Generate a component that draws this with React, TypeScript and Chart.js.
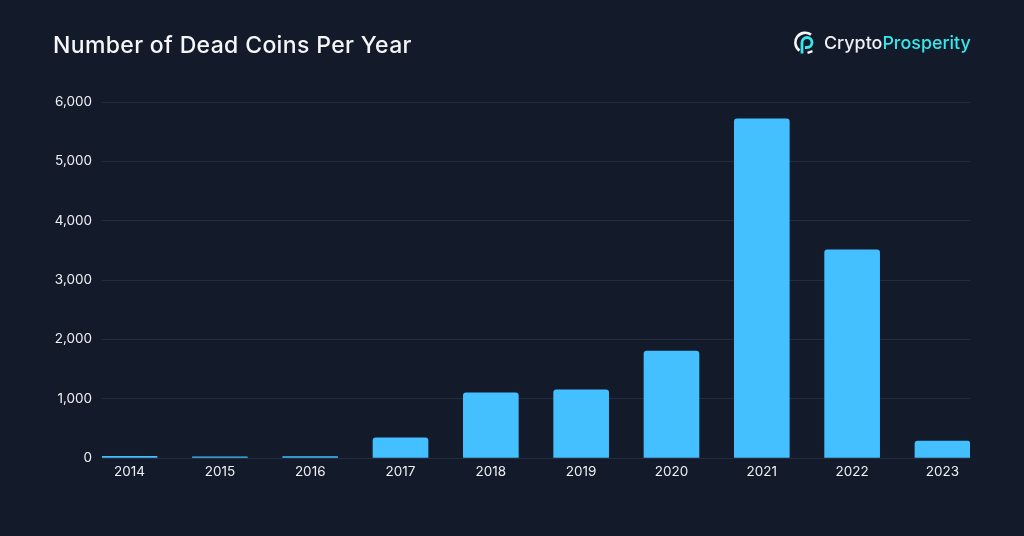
import { useEffect, useRef } from 'react';
import { Chart, registerables } from 'chart.js';

Chart.register(...registerables);

const years = [2014, 2015, 2016, 2017, 2018, 2019, 2020, 2021, 2022, 2023];
const deadCoins = [30, 18, 22, 340, 1100, 1150, 1800, 5715, 3510, 285];
const yTicks = [0, 1000, 2000, 3000, 4000, 5000, 6000];

const FONT = 'Inter, "Noto Sans", sans-serif';
const BG = '#131a2a';
const BAR = '#44bfff';
const TEXT = '#eef0f3';
const GRID = '#252c3d';

function Logo() {
  return (
    <svg width="22" height="24" viewBox="0 0 22 24" style={{ position: 'absolute', left: 794, top: 31 }}>
      <path d="M17 3.6 A9.6 9.6 0 1 0 5.5 19.6" fill="none" stroke="#f4f6f8" strokeWidth="2.6" />
      <path d="M8 22.5 V11.5 A5 5 0 1 1 13 16.5 H11" fill="none" stroke="#35e8ee" strokeWidth="2.8" />
      <path d="M13.5 21.8 L18.5 20.2" fill="none" stroke="#f4f6f8" strokeWidth="2.4" />
    </svg>
  );
}

export default function App() {
  const canvasRef = useRef<HTMLCanvasElement>(null);

  useEffect(() => {
    if (!canvasRef.current) return;

    const chart = new Chart(canvasRef.current, {
      type: 'bar',
      data: {
        datasets: [
          {
            data: years.map((y, i) => ({ x: y, y: deadCoins[i] })),
            backgroundColor: BAR,
            borderRadius: { topLeft: 3, topRight: 3, bottomLeft: 0, bottomRight: 0 },
            borderSkipped: false,
            barThickness: 55,
          },
        ],
      },
      options: {
        responsive: false,
        animation: false,
        layout: { padding: { top: 102, right: 54 } },
        plugins: { legend: { display: false }, tooltip: { enabled: false } },
        scales: {
          x: {
            type: 'linear',
            offset: false,
            // half a bar past the first and last year, so grid lines stop at the bar edges
            min: 2013.695,
            max: 2023.305,
            grid: { display: false, drawTicks: false, tickLength: 0 },
            border: { display: false },
            afterBuildTicks: (axis) => { axis.ticks = years.map((value) => ({ value })); },
            afterFit: (axis) => { axis.height = 78; },
            ticks: {
              color: TEXT,
              font: { family: FONT, size: 13.5 },
              padding: 6,
              maxRotation: 0,
              autoSkip: false,
              callback: (v) => String(v),
            },
          },
          y: {
            min: 0,
            max: 6000,
            grid: { color: GRID, lineWidth: 1, drawTicks: false },
            border: { display: false },
            afterBuildTicks: (axis) => { axis.ticks = yTicks.map((value) => ({ value })); },
            afterFit: (axis) => { axis.width = 102; },
            ticks: {
              color: TEXT,
              font: { family: FONT, size: 13.5 },
              padding: 10,
              callback: (v) => Number(v).toLocaleString('en-US'),
            },
          },
        },
      },
    });

    return () => { chart.destroy(); };
  }, []);

  return (
    <div style={{ position: 'absolute', left: 0, top: 0, width: 1024, height: 536, background: BG, overflow: 'hidden', fontFamily: FONT }}>
      <canvas ref={canvasRef} width={1024} height={536} style={{ position: 'absolute', left: 0, top: 0 }} />
      <div style={{ position: 'absolute', left: 53, top: 29, fontSize: 23, lineHeight: '32px', fontWeight: 500, letterSpacing: 0.35, color: '#f5f6f8', whiteSpace: 'nowrap' }}>
        Number of Dead Coins Per Year
      </div>
      <Logo />
      <div style={{ position: 'absolute', left: 824, top: 30, fontSize: 17.9, lineHeight: '26px', fontWeight: 500, whiteSpace: 'nowrap', color: '#eef0f3' }}>
        Crypto<span style={{ color: '#35e8ee' }}>Prosperity</span>
      </div>
    </div>
  );
}
